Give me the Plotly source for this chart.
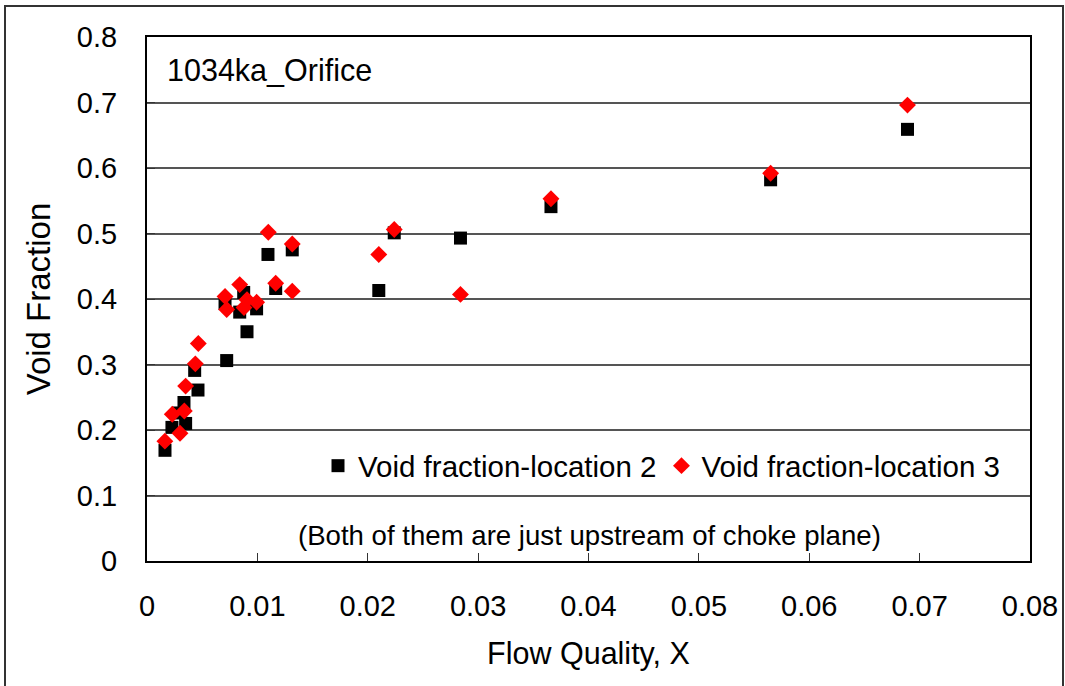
import plotly.graph_objects as go

# Location 2 (black squares)
x_loc2 = [0.00163, 0.00226, 0.00284, 0.00335, 0.00350, 0.00432, 0.00462, 0.00707, 0.00722,
          0.00840, 0.00876, 0.00906, 0.00993, 0.01096, 0.01166, 0.01316, 0.0210, 0.0224,
          0.0284, 0.0366, 0.0565, 0.0689]
y_loc2 = [0.169, 0.204, 0.226, 0.242, 0.210, 0.291, 0.261, 0.393, 0.306,
          0.380, 0.410, 0.350, 0.385, 0.468, 0.416, 0.475, 0.413, 0.501,
          0.493, 0.541, 0.582, 0.659]

# Location 3 (red diamonds)
x_loc3 = [0.00162, 0.00229, 0.00299, 0.00338, 0.00350, 0.00438, 0.00465, 0.00707, 0.00722,
          0.00840, 0.00879, 0.00906, 0.00993, 0.01099, 0.01166, 0.01316, 0.01316, 0.0210,
          0.0224, 0.0284, 0.0366, 0.0565, 0.0689]
y_loc3 = [0.183, 0.224, 0.195, 0.229, 0.267, 0.301, 0.332, 0.404, 0.384,
          0.422, 0.387, 0.399, 0.395, 0.502, 0.424, 0.484, 0.412, 0.468,
          0.506, 0.407, 0.553, 0.592, 0.696]

x_ticks = [0, 0.01, 0.02, 0.03, 0.04, 0.05, 0.06, 0.07, 0.08]
x_tick_text = ["0", "0.01", "0.02", "0.03", "0.04", "0.05", "0.06", "0.07", "0.08"]
y_ticks = [0, 0.1, 0.2, 0.3, 0.4, 0.5, 0.6, 0.7, 0.8]
y_tick_text = ["0", "0.1", "0.2", "0.3", "0.4", "0.5", "0.6", "0.7", "0.8"]

FONT = "Liberation Sans, Arial, sans-serif"

fig = go.Figure()
fig.add_trace(go.Scatter(
    x=x_loc2, y=y_loc2, mode="markers", name="Void fraction-location 2",
    marker=dict(symbol="square", size=13, color="black"),
))
fig.add_trace(go.Scatter(
    x=x_loc3, y=y_loc3, mode="markers", name="Void fraction-location 3",
    marker=dict(symbol="diamond", size=13, color="#ff0000"),
))

W, H = 1065, 686
ml, mr, mt, mb = 147, 35, 37, 125
pw, ph = W - ml - mr, H - mt - mb

def px_x(p):
    return (p - ml) / pw

def px_y(p):
    return (H - mb - p) / ph

fig.update_layout(
    width=W, height=H,
    margin=dict(l=ml, r=mr, t=mt, b=mb, autoexpand=False),
    paper_bgcolor="white", plot_bgcolor="white",
    font=dict(family=FONT, color="black", size=28),
    showlegend=True,
    legend=dict(
        orientation="h", x=px_x(318), y=px_y(466), xanchor="left", yanchor="middle",
        font=dict(size=29.5, family=FONT), bgcolor="rgba(0,0,0,0)",
        itemwidth=30, tracegroupgap=0,
    ),
    xaxis=dict(
        range=[0, 0.08], tickvals=x_ticks, ticktext=x_tick_text,
        showgrid=False, zeroline=False,
        showline=True, linecolor="black", linewidth=2, mirror=True,
        ticks="inside", ticklen=8, tickcolor="#333", tickwidth=1,
        tickfont=dict(size=29, family=FONT), ticklabelstandoff=18,
        title=dict(text="Flow Quality, X", font=dict(size=30.5, family=FONT), standoff=22),
    ),
    yaxis=dict(
        range=[0, 0.8], tickvals=y_ticks, ticktext=y_tick_text,
        showgrid=True, gridcolor="#555555", gridwidth=1.5, zeroline=False,
        showline=True, linecolor="black", linewidth=2, mirror=True,
        ticks="inside", ticklen=8, tickcolor="#333", tickwidth=1,
        tickfont=dict(size=29, family=FONT), ticklabelstandoff=22,
        title=dict(text="Void Fraction", font=dict(size=33, family=FONT), standoff=16),
    ),
    annotations=[
        dict(text="1034ka_Orifice", x=px_x(165), y=px_y(70), xref="paper", yref="paper",
             xanchor="left", yanchor="middle", showarrow=False,
             font=dict(size=30.5, family=FONT)),
        dict(text="(Both of them are just upstream of choke plane)", x=px_x(589), y=px_y(535),
             xref="paper", yref="paper", xanchor="center", yanchor="middle", showarrow=False,
             font=dict(size=27.6, family=FONT)),
    ],
    shapes=[
        dict(type="rect", xref="paper", yref="paper",
             x0=px_x(5), x1=px_x(1063), y0=px_y(700), y1=px_y(6),
             line=dict(color="#333", width=2), fillcolor="rgba(0,0,0,0)", layer="below"),
    ],
)

fig.write_html("out.html")
